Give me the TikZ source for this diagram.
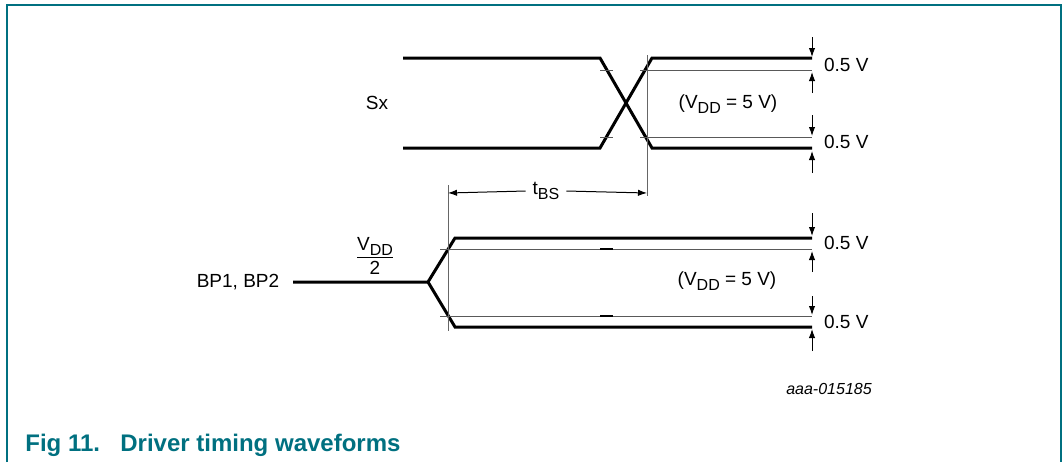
\documentclass[tikz,border=0pt]{standalone}
\usepackage{fontspec}
\setmainfont{Liberation Sans}
\usetikzlibrary{arrows.meta}
\definecolor{bleunxp}{RGB}{0,112,128}
\newcommand{\indice}[1]{\raisebox{-0.45ex}{\fontsize{8}{9}\selectfont #1}}

\begin{document}
\begin{tikzpicture}[x=0.5pt,y=-0.5pt,font=\fontsize{9.5}{11}\selectfont,
    onde/.style={line width=1.5pt},
    niveau/.style={line width=0.5pt,black!65},
    repere/.style={line width=0.5pt,black!60},
    cote/.style={line width=0.5pt,-{Latex[length=4.5pt,width=3.2pt]}}]
    \useasboundingbox (0,0) rectangle (1063,462);

    % Cadre ouvert en bas
    \draw[bleunxp,line width=1pt] (7,462) -- (7,4.5) -- (1061,4.5) -- (1061,462);

    % Signal Sx (croisement)
    \draw[onde] (403,58) -- (600,58) -- (652,148) -- (812,148);
    \draw[onde] (403,148) -- (600,148) -- (652,58) -- (812,58);

    % Niveaux a 0.5 V pour Sx
    \draw[niveau] (600,70.5) -- (613,70.5);
    \draw[niveau] (640,70.5) -- (812,70.5);
    \draw[niveau] (600,137) -- (613,137);
    \draw[niveau] (640,137) -- (812,137);

    % Signal BP1, BP2
    \draw[onde] (293,282) -- (428,282) -- (455,238) -- (812,238);
    \draw[onde] (428,282) -- (455,327) -- (812,327);

    % Niveaux a 0.5 V pour BP
    \draw[niveau] (440,249) -- (812,249);
    \draw[niveau] (440,316) -- (812,316);
    \draw[line width=0.8pt] (600,249) -- (613,249);
    \draw[line width=0.8pt] (600,316) -- (613,316);

    % Reperes verticaux
    \draw[repere] (448,185) -- (448,331);
    \draw[repere] (647,55) -- (647,196);

    % Cote tBS
    \coordinate (tg) at (448,193);
    \coordinate (td) at (647,193);
    \node (tbs) at (546,191) {t\indice{BS}};
    \draw[cote] (tbs.west) -- (tg);
    \draw[cote] (tbs.east) -- (td);

    % Cotes de 0.5 V
    \foreach \a/\b/\c/\d in {37/57/93/72, 115/136/173/151, 213/236/272/251, 296/315/351/329}
    {
        \draw[cote] (812,\a) -- (812,\b);
        \draw[cote] (812,\c) -- (812,\d);
    }

    % Textes
    \node (sx) at (377,103) {Sx};
    \node (bp) at (238,282) {BP1, BP2};
    \node (demi) at (375,256) {$\displaystyle\frac{\mbox{V\indice{DD}}}{\mbox{2}}$};
    \node (vsx) at (728,104) {(V\indice{DD} = 5 V)};
    \node (vbp) at (727,281) {(V\indice{DD} = 5 V)};
    \node[anchor=west] (ua) at (817,65) {0.5 V};
    \node[anchor=west] (ub) at (817,142) {0.5 V};
    \node[anchor=west] (uc) at (817,243) {0.5 V};
    \node[anchor=west] (ud) at (817,322) {0.5 V};
    \node (ref) at (829,389) {\fontsize{8}{10}\selectfont\itshape aaa-015185};

    % Legende
    \node[anchor=base west,inner sep=0pt,text=bleunxp,font=\fontsize{12}{14}\selectfont\bfseries] (fig) at (25,451) {Fig 11.};
    \node[anchor=base west,inner sep=0pt,text=bleunxp,font=\fontsize{12}{14}\selectfont\bfseries] (titre) at (120,451) {Driver timing waveforms};
\end{tikzpicture}
\end{document}
